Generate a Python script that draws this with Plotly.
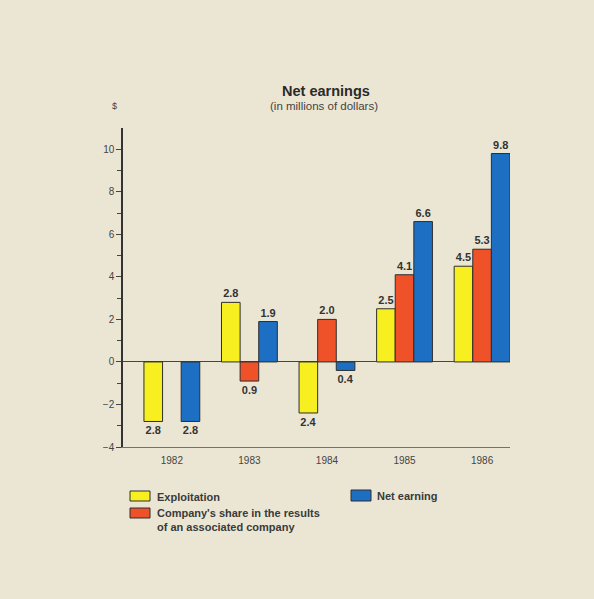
import plotly.graph_objects as go

years = ["1982", "1983", "1984", "1985", "1986"]
exploitation = [-2.8, 2.8, -2.4, 2.5, 4.5]
company_share = [None, -0.9, 2.0, 4.1, 5.3]
net_earning = [-2.8, 1.9, -0.4, 6.6, 9.8]

series_names = ["Exploitation", "Company's share in the results<br>of an associated company", "Net earning"]
colors = ["#f7ef1f", "#ef5129", "#1c6fc2"]

W, H = 594, 599
L, R, T, B = 123, 510, 128, 447  # plot area in pixels

def px(x):
    return (x - L) / (R - L)

def py(y):
    return (B - y) / (B - T)

fig = go.Figure()
for name, vals, col in zip(["Exploitation", "Company's share", "Net earning"],
                           [exploitation, company_share, net_earning], colors):
    fig.add_trace(go.Bar(
        x=years, y=vals, name=name,
        marker=dict(color=col, line=dict(color="#2e2e2e", width=1)),
        text=[("<b>%.1f</b>" % abs(v)) if v is not None else "" for v in vals],
        textposition="outside",
        textfont=dict(family="Arial, Liberation Sans", size=11, color="#333333"),
        cliponaxis=False,
        showlegend=False,
    ))

fig.update_layout(
    width=W, height=H,
    margin=dict(l=L, r=W - R, t=T, b=H - B),
    paper_bgcolor="#ebe6d3",
    plot_bgcolor="#ebe6d3",
    barmode="group",
    bargap=0.28,
    bargroupgap=0,
    font=dict(family="Arial, Liberation Sans", size=10, color="#333333"),
)

fig.update_xaxes(
    type="category",
    range=[-0.63, 4.36],
    showline=True, linecolor="#7a6a80", linewidth=1,
    ticks="", showgrid=False,
    tickfont=dict(size=10, color="#444444"),
    ticklabelstandoff=4,
)
fig.update_yaxes(
    range=[-4, 11],
    tickvals=[-4, -2, 0, 2, 4, 6, 8, 10],
    showline=True, linecolor="#333333", linewidth=1.5,
    ticks="outside", ticklen=5, tickcolor="#444444",
    minor=dict(tickvals=[-3, -1, 1, 3, 5, 7, 9], ticks="outside", ticklen=4, tickcolor="#444444"),
    showgrid=False,
    zeroline=True, zerolinecolor="#3d4a3d", zerolinewidth=1,
    tickfont=dict(size=10, color="#444444"),
)

# Titles
fig.add_annotation(x=px(326), y=py(91), xref="paper", yref="paper", text="<b>Net earnings</b>",
                   showarrow=False, font=dict(size=14.5, color="#2a2a2a"), xanchor="center", yanchor="middle")
fig.add_annotation(x=px(324), y=py(106), xref="paper", yref="paper", text="(in millions of dollars)",
                   showarrow=False, font=dict(size=11.5, color="#444444"), xanchor="center", yanchor="middle")
fig.add_annotation(x=px(114), y=py(106), xref="paper", yref="paper", text="$",
                   showarrow=False, font=dict(size=9, color="#444444"), xanchor="center", yanchor="middle")

# Legend (drawn manually)
legend_items = [
    (130, 491, 150, 501, colors[0], series_names[0], 155, 497),
    (130, 508, 150, 518, colors[1], series_names[1], 155, 520),
    (351, 490, 371, 501, colors[2], series_names[2], 375, 496),
]
for x0, y0, x1, y1, col, label, tx, ty in legend_items:
    fig.add_shape(type="rect", xref="paper", yref="paper",
                  x0=px(x0), x1=px(x1), y0=py(y1), y1=py(y0),
                  fillcolor=col, line=dict(color="#2e2e2e", width=1))
    fig.add_annotation(x=px(tx), y=py(ty), xref="paper", yref="paper", text="<b>" + label + "</b>",
                       showarrow=False, align="left", xanchor="left", yanchor="middle",
                       font=dict(size=11, color="#3a3a3a"))

fig.write_html("out.html", config={"displayModeBar": False},
               post_script="document.body.style.margin='0';")
